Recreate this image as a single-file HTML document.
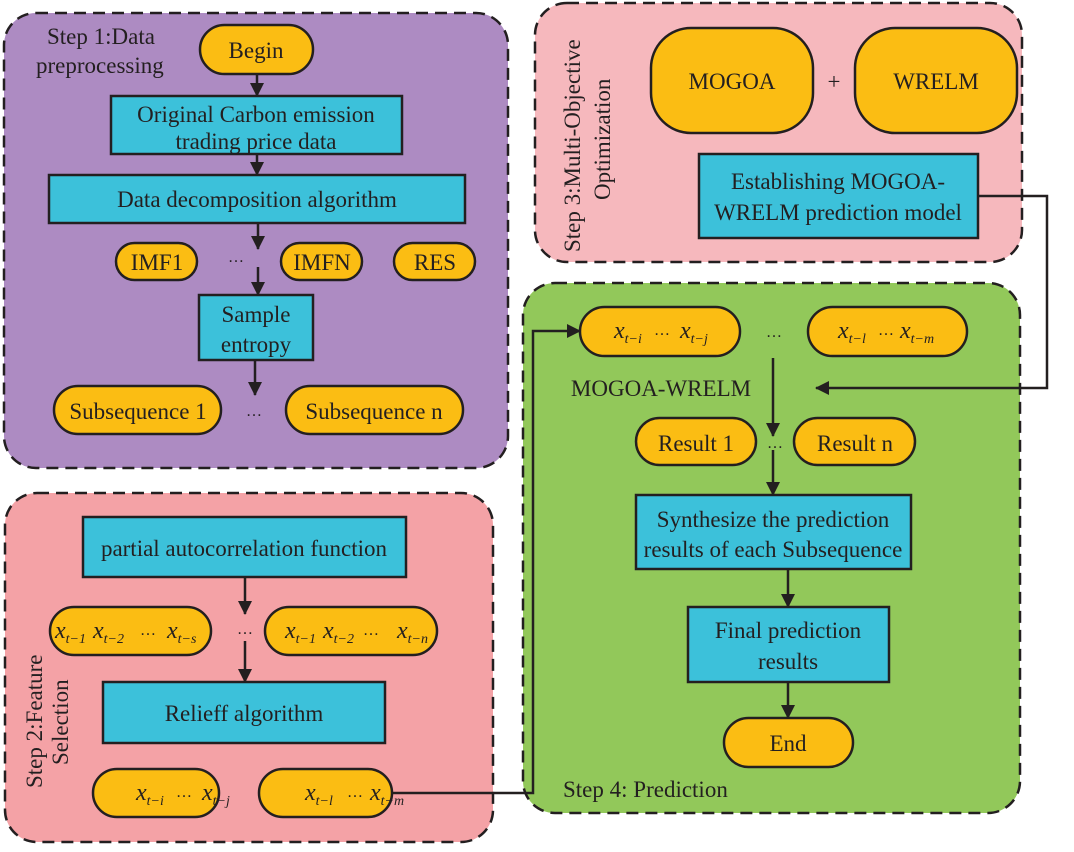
<!DOCTYPE html>
<html><head><meta charset="utf-8"><style>
html,body{margin:0;padding:0;background:#fff;}
svg, svg text{font-family:"Liberation Serif","Times New Roman",serif;}
</style></head><body>
<svg width="1074" height="847" viewBox="0 0 1074 847" xmlns="http://www.w3.org/2000/svg" font-family="Liberation Serif, serif">
<defs>
<marker id="av" markerWidth="14" markerHeight="14" refX="13" refY="7" orient="auto" markerUnits="userSpaceOnUse"><path d="M0,0 L14,7 L0,14 z" fill="#231f20"/></marker>
</defs>
<g stroke="#231f20" stroke-width="2.5" stroke-dasharray="12,7">
<rect x="4" y="13" width="504" height="455" rx="32" fill="#ad8bc2"/>
<rect x="535" y="3" width="487" height="259" rx="32" fill="#f6b8bd"/>
<rect x="523" y="283" width="497" height="530" rx="32" fill="#92c85a"/>
<rect x="5" y="493" width="488" height="349" rx="32" fill="#f4a2a6"/>
</g>
<g stroke="#231f20" stroke-width="2.5">
<g fill="#3cc1da">
<rect x="111" y="96" width="291" height="58"/>
<rect x="49" y="175" width="416" height="48"/>
<rect x="199" y="295" width="114" height="65"/>
<rect x="83" y="517" width="323" height="60"/>
<rect x="103" y="682" width="282" height="61"/>
<rect x="699" y="154" width="279" height="84"/>
<rect x="636" y="495" width="275" height="74"/>
<rect x="688" y="607" width="201" height="75"/>
</g>
<g fill="#fbbd13">
<rect x="200" y="25" width="113" height="49" rx="24.5"/>
<rect x="116" y="243" width="81" height="37" rx="18.5"/>
<rect x="281" y="243" width="81" height="37" rx="18.5"/>
<rect x="394" y="243" width="81" height="37" rx="18.5"/>
<rect x="54" y="386" width="167" height="48" rx="24"/>
<rect x="286" y="386" width="177" height="48" rx="24"/>
<rect x="50" y="607" width="161" height="48" rx="24"/>
<rect x="265" y="607" width="172" height="48" rx="24"/>
<rect x="93" y="769" width="126" height="48" rx="24"/>
<rect x="259" y="769" width="133" height="48" rx="24"/>
<rect x="651" y="28" width="162" height="105" rx="40"/>
<rect x="855" y="28" width="162" height="105" rx="40"/>
<rect x="580" y="307" width="160" height="49" rx="24.5"/>
<rect x="808" y="307" width="159" height="49" rx="24.5"/>
<rect x="636" y="418" width="120" height="47" rx="23.5"/>
<rect x="794" y="418" width="121" height="47" rx="23.5"/>
<rect x="724" y="718" width="129" height="49" rx="24.5"/>
</g>
</g>
<g stroke="#231f20" stroke-width="2.5" fill="none">
<line x1="257" y1="74" x2="257" y2="96" marker-end="url(#av)"/>
<line x1="257" y1="154" x2="257" y2="175" marker-end="url(#av)"/>
<line x1="258" y1="223" x2="258" y2="249" marker-end="url(#av)"/>
<line x1="258" y1="267" x2="258" y2="295" marker-end="url(#av)"/>
<line x1="255" y1="360" x2="255" y2="395" marker-end="url(#av)"/>
<line x1="245" y1="577" x2="245" y2="614" marker-end="url(#av)"/>
<line x1="245" y1="641" x2="245" y2="682" marker-end="url(#av)"/>
<line x1="773" y1="358" x2="773" y2="436" marker-end="url(#av)"/>
<line x1="773" y1="450" x2="773" y2="495" marker-end="url(#av)"/>
<line x1="788" y1="569" x2="788" y2="607" marker-end="url(#av)"/>
<line x1="788" y1="682" x2="788" y2="718" marker-end="url(#av)"/>
<polyline points="392,793 533,793 533,331 580,331" marker-end="url(#av)"/>
<polyline points="978,196 1047,196 1047,388 816,388" marker-end="url(#av)"/>
</g>
<g fill="#231f20" font-size="23" text-anchor="middle">
<text x="256" y="58">Begin</text>
<text x="256" y="122">Original Carbon emission</text>
<text x="256" y="149">trading price data</text>
<text x="257" y="207">Data decomposition algorithm</text>
<text x="157" y="270">IMF1</text>
<text x="322" y="270">IMFN</text>
<text x="435" y="270">RES</text>
<text x="236" y="262" font-size="16">…</text>
<text x="256" y="322">Sample</text>
<text x="256" y="352">entropy</text>
<text x="138" y="419">Subsequence 1</text>
<text x="374" y="419">Subsequence n</text>
<text x="254" y="416" font-size="16">…</text>
<text x="244" y="556">partial autocorrelation function</text>
<text x="244" y="721">Relieff algorithm</text>
<text x="245" y="634" font-size="16">…</text>
<text x="732" y="89">MOGOA</text>
<text x="936" y="89">WRELM</text>
<text x="834" y="89">+</text>
<text x="838" y="189">Establishing MOGOA-</text>
<text x="838" y="220">WRELM prediction model</text>
<text x="774" y="337" font-size="16">…</text>
<text x="661" y="396">MOGOA-WRELM</text>
<text x="696" y="451">Result 1</text>
<text x="855" y="451">Result n</text>
<text x="775" y="448" font-size="16">…</text>
<text x="773" y="527">Synthesize the prediction</text>
<text x="773" y="557">results of each Subsequence</text>
<text x="788" y="638">Final prediction</text>
<text x="788" y="669">results</text>
<text x="788" y="751">End</text>
</g>
<g fill="#231f20" font-size="23">
<text x="47" y="44">Step 1:Data</text>
<text x="36" y="73">preprocessing</text>
<text x="563" y="797" font-size="23">Step 4: Prediction</text>
<text transform="translate(42,788) rotate(-90)">Step 2:Feature</text>
<text transform="translate(68,765) rotate(-90)">Selection</text>
<text transform="translate(580,252) rotate(-90)">Step 3:Multi-Objective</text>
<text transform="translate(610,200) rotate(-90)">Optimization</text>
</g>
<g fill="#231f20" font-style="italic" font-size="24">
<text x="55" y="638">x<tspan font-size="14" dy="5">t−1</tspan></text>
<text x="93" y="638">x<tspan font-size="14" dy="5">t−2</tspan></text>
<text x="140" y="635" font-style="normal" font-size="16">…</text>
<text x="167" y="638">x<tspan font-size="14" dy="5">t−s</tspan></text>
<text x="285" y="638">x<tspan font-size="14" dy="5">t−1</tspan></text>
<text x="323" y="638">x<tspan font-size="14" dy="5">t−2</tspan></text>
<text x="363" y="635" font-style="normal" font-size="16">…</text>
<text x="397" y="638">x<tspan font-size="14" dy="5">t−n</tspan></text>
<text x="136" y="800">x<tspan font-size="14" dy="5">t−i</tspan></text>
<text x="176" y="797" font-style="normal" font-size="16">…</text>
<text x="202" y="800">x<tspan font-size="14" dy="5">t−j</tspan></text>
<text x="305" y="800">x<tspan font-size="14" dy="5">t−l</tspan></text>
<text x="347" y="797" font-style="normal" font-size="16">…</text>
<text x="370" y="800">x<tspan font-size="14" dy="5">t−m</tspan></text>
<text x="614" y="338">x<tspan font-size="14" dy="5">t−i</tspan></text>
<text x="654" y="335" font-style="normal" font-size="16">…</text>
<text x="680" y="338">x<tspan font-size="14" dy="5">t−j</tspan></text>
<text x="838" y="338">x<tspan font-size="14" dy="5">t−l</tspan></text>
<text x="878" y="335" font-style="normal" font-size="16">…</text>
<text x="900" y="338">x<tspan font-size="14" dy="5">t−m</tspan></text>
</g>
</svg>
</body></html>
